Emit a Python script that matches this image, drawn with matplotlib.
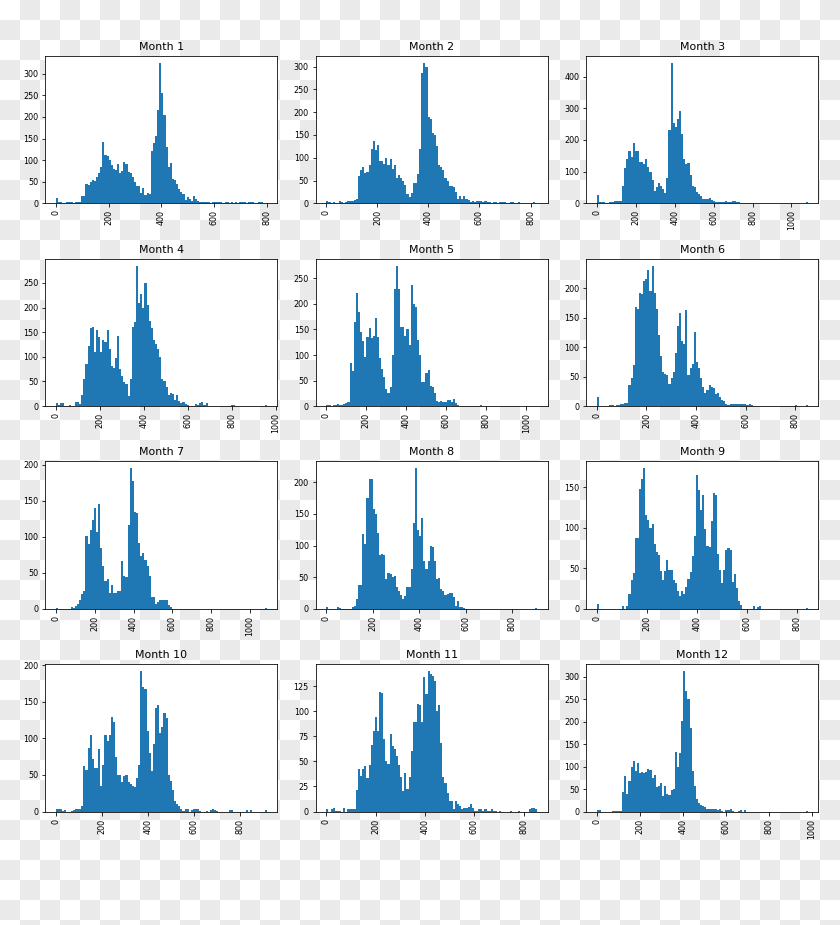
import numpy as np
import matplotlib
matplotlib.use("Agg")
import matplotlib.pyplot as plt
from matplotlib.ticker import MaxNLocator

# value range (min, max) of each month, bins are 100 equal steps over it
month_ranges = [(0, 800), (0, 826), (0, 1083), (0, 960), (0, 1055), (0, 849),
                (0, 1086), (0, 909), (0, 841), (0, 915), (0, 855), (0, 981)]

month1 = [13, 3, 2, 0, 1, 3, 4, 2, 0, 3,
          4, 3, 17, 16, 45, 43, 50, 55, 52, 62,
          70, 85, 142, 112, 110, 100, 88, 80, 78, 90,
          70, 75, 96, 92, 72, 70, 60, 50, 40, 40,
          25, 35, 20, 23, 22, 122, 140, 155, 215, 325,
          255, 205, 130, 85, 93, 57, 55, 45, 33, 26,
          22, 8, 15, 10, 5, 18, 10, 5, 4, 3,
          4, 4, 2, 1, 3, 3, 4, 2, 3, 1,
          2, 3, 1, 2, 0, 2, 1, 2, 2, 2,
          1, 2, 2, 2, 1, 0, 2, 2, 1, 1]
month2 = [6, 2, 0, 3, 1, 0, 4, 2, 0, 2,
          4, 4, 5, 8, 10, 60, 72, 80, 66, 68,
          85, 120, 137, 118, 128, 93, 92, 87, 100, 85,
          98, 75, 85, 56, 62, 55, 48, 40, 20, 13,
          22, 45, 45, 65, 120, 285, 308, 300, 190, 185,
          155, 150, 125, 85, 80, 72, 55, 48, 38, 38,
          35, 25, 10, 17, 10, 17, 10, 7, 3, 5,
          3, 4, 5, 4, 3, 4, 2, 3, 1, 3,
          2, 1, 2, 3, 2, 1, 1, 2, 2, 1,
          1, 2, 1, 1, 0, 1, 1, 0, 2, 1]
month3 = [25, 5, 4, 3, 0, 2, 4, 3, 6, 8,
          8, 8, 55, 112, 140, 165, 145, 190, 165, 165,
          130, 130, 125, 140, 115, 100, 75, 38, 52, 65,
          55, 45, 32, 80, 230, 443, 255, 240, 265, 290,
          220, 140, 125, 128, 88, 55, 50, 35, 30, 22,
          15, 15, 12, 18, 10, 8, 4, 3, 3, 4,
          3, 6, 3, 5, 6, 6, 5, 3, 1, 1,
          0, 1, 0, 0, 2, 0, 2, 0, 2, 0,
          0, 0, 0, 0, 0, 0, 0, 0, 0, 0,
          0, 0, 0, 0, 0, 0, 0, 0, 0, 3]
month4 = [6, 2, 6, 6, 0, 0, 2, 0, 0, 8,
          8, 5, 22, 55, 85, 122, 158, 160, 110, 155,
          140, 110, 135, 130, 155, 115, 82, 78, 97, 142,
          75, 60, 48, 45, 20, 55, 160, 170, 285, 210,
          228, 200, 250, 205, 172, 158, 135, 125, 115, 100,
          55, 50, 38, 22, 27, 25, 12, 22, 10, 7,
          8, 5, 2, 1, 0, 0, 5, 3, 6, 8,
          3, 6, 0, 0, 0, 0, 0, 0, 0, 0,
          0, 0, 0, 3, 2, 0, 0, 0, 0, 0,
          0, 0, 0, 0, 0, 0, 0, 0, 0, 3]
month5 = [3, 2, 1, 2, 2, 4, 3, 2, 4, 6,
          8, 85, 68, 165, 222, 185, 145, 128, 97, 135,
          153, 133, 137, 172, 135, 95, 72, 57, 33, 25,
          38, 100, 230, 275, 230, 155, 155, 137, 150, 120,
          238, 200, 195, 130, 100, 47, 47, 65, 70, 40,
          38, 25, 10, 8, 10, 7, 8, 12, 12, 7,
          14, 6, 3, 0, 0, 0, 0, 0, 0, 0,
          0, 0, 0, 2, 0, 0, 0, 0, 0, 0,
          0, 0, 0, 0, 0, 0, 0, 0, 0, 0,
          0, 0, 0, 0, 0, 0, 0, 0, 0, 1]
month6 = [15, 0, 0, 0, 0, 0, 2, 2, 0, 2,
          2, 3, 3, 5, 5, 35, 47, 70, 168, 165,
          192, 190, 212, 215, 230, 195, 238, 192, 165, 120,
          85, 58, 55, 52, 38, 48, 58, 90, 135, 158,
          110, 105, 163, 52, 65, 72, 125, 75, 65, 48,
          33, 22, 28, 35, 33, 30, 20, 22, 15, 10,
          8, 3, 1, 3, 3, 3, 3, 3, 3, 3,
          3, 2, 3, 2, 0, 0, 0, 0, 0, 0,
          0, 0, 0, 0, 0, 0, 0, 0, 0, 0,
          0, 0, 0, 0, 2, 0, 0, 0, 0, 2]
month7 = [1, 0, 0, 0, 0, 0, 0, 2, 1, 4,
          6, 12, 20, 25, 101, 90, 110, 123, 140, 107,
          145, 85, 60, 38, 42, 22, 33, 22, 22, 25,
          25, 67, 45, 44, 117, 195, 178, 134, 133, 92,
          73, 78, 68, 60, 46, 17, 17, 6, 10, 12,
          12, 12, 12, 5, 2, 0, 0, 0, 0, 0,
          0, 0, 0, 0, 0, 0, 0, 0, 0, 0,
          0, 0, 0, 0, 0, 0, 0, 0, 0, 0,
          0, 0, 0, 0, 0, 0, 0, 0, 0, 0,
          0, 0, 0, 0, 0, 0, 0, 0, 0, 1]
month8 = [3, 0, 0, 0, 0, 3, 2, 0, 0, 0,
          0, 0, 3, 5, 15, 37, 38, 118, 102, 175,
          205, 205, 158, 150, 120, 85, 87, 85, 47, 57,
          55, 50, 52, 35, 28, 22, 15, 20, 35, 34,
          63, 135, 222, 125, 115, 143, 76, 63, 75, 100,
          98, 75, 47, 48, 31, 28, 22, 23, 25, 25,
          18, 5, 12, 3, 3, 1, 0, 0, 0, 0,
          0, 0, 0, 0, 0, 0, 0, 0, 0, 0,
          0, 0, 0, 0, 0, 0, 0, 0, 0, 0,
          0, 0, 0, 0, 0, 0, 0, 0, 0, 1]
month9 = [6, 0, 0, 0, 0, 0, 0, 0, 0, 0,
          0, 0, 3, 0, 3, 18, 35, 44, 87, 87,
          148, 160, 173, 115, 110, 100, 105, 80, 70, 66,
          47, 35, 47, 60, 48, 48, 35, 32, 22, 16,
          22, 18, 27, 37, 45, 65, 90, 165, 146, 122,
          140, 98, 77, 76, 108, 143, 140, 68, 48, 32,
          48, 73, 75, 72, 33, 43, 25, 10, 5, 0,
          0, 0, 0, 0, 3, 0, 2, 3, 0, 0,
          0, 0, 0, 0, 0, 0, 0, 0, 0, 0,
          0, 0, 0, 0, 0, 0, 0, 0, 0, 1]
month10 = [4, 3, 3, 1, 2, 0, 0, 1, 2, 3,
           4, 3, 8, 62, 57, 87, 104, 72, 60, 60,
           86, 35, 63, 104, 96, 104, 129, 122, 75, 50,
           50, 40, 48, 50, 40, 38, 35, 33, 46, 63,
           192, 170, 168, 110, 80, 55, 92, 142, 146, 107,
           115, 135, 128, 50, 42, 30, 15, 10, 7, 3,
           1, 3, 4, 0, 2, 3, 3, 3, 1, 0,
           0, 1, 0, 2, 3, 2, 1, 0, 0, 0,
           0, 0, 2, 2, 0, 0, 0, 0, 0, 0,
           2, 0, 2, 0, 0, 0, 0, 0, 0, 2]
month11 = [2, 0, 2, 3, 1, 1, 1, 0, 3, 0,
           2, 2, 2, 2, 21, 42, 35, 42, 45, 33,
           46, 66, 80, 94, 80, 119, 118, 72, 50, 47,
           77, 65, 62, 55, 46, 34, 20, 38, 22, 34,
           60, 89, 89, 107, 106, 89, 134, 117, 140, 137,
           135, 130, 100, 106, 68, 34, 28, 18, 10, 10,
           2, 10, 7, 5, 2, 3, 3, 4, 7, 3,
           1, 1, 2, 2, 1, 2, 1, 1, 2, 1,
           1, 0, 1, 0, 0, 0, 0, 1, 0, 0,
           0, 1, 0, 0, 0, 0, 2, 3, 3, 2]
month12 = [4, 3, 0, 0, 0, 0, 0, 1, 2, 2,
           2, 2, 43, 78, 40, 68, 100, 112, 90, 107,
           85, 88, 85, 88, 94, 93, 75, 82, 55, 57,
           63, 35, 57, 40, 37, 47, 50, 132, 100, 130,
           202, 312, 268, 250, 185, 90, 57, 27, 20, 15,
           13, 10, 6, 6, 6, 5, 5, 3, 5, 1,
           0, 3, 3, 5, 1, 0, 0, 2, 3, 0,
           3, 0, 0, 0, 0, 0, 0, 0, 0, 0,
           0, 0, 0, 0, 0, 0, 0, 0, 0, 0,
           0, 0, 0, 0, 0, 0, 0, 0, 0, 2]

counts = [month1, month2, month3, month4, month5, month6,
          month7, month8, month9, month10, month11, month12]

DPI = 72
fig, axes = plt.subplots(4, 3, figsize=(840 / DPI, 925 / DPI), dpi=DPI)
fig.subplots_adjust(left=0.054, right=0.974, top=0.9395, bottom=0.1227,
                    wspace=0.166, hspace=0.376)

# transparent-background checkerboard as seen in the reference
sq = 20
yy, xx = np.mgrid[0:925, 0:840]
board = ((yy // sq + xx // sq) % 2)
rgb = np.ones((925, 840, 3))
rgb[board == 1] = 0.92
fig.figimage(rgb, xo=0, yo=0, zorder=-10, origin="upper")
fig.patch.set_alpha(0)

nice = [1, 2, 2.5, 5, 10]
for i, ax in enumerate(axes.flat):
    lo, hi = month_ranges[i]
    c = np.array(counts[i], dtype=float)
    edges = np.linspace(lo, hi, len(c) + 1)
    ax.hist(edges[:-1], bins=edges, weights=c, color="#1f77b4")
    ax.set_title(f"Month {i + 1}", fontsize=11)
    ax.xaxis.set_major_locator(MaxNLocator(nbins=6, steps=nice))
    ax.yaxis.set_major_locator(MaxNLocator(nbins=7, steps=nice))
    ax.tick_params(axis="both", labelsize=8)
    ax.tick_params(axis="x", labelrotation=90)
    ax.set_facecolor("white")

fig.savefig("out.png", dpi=DPI)
